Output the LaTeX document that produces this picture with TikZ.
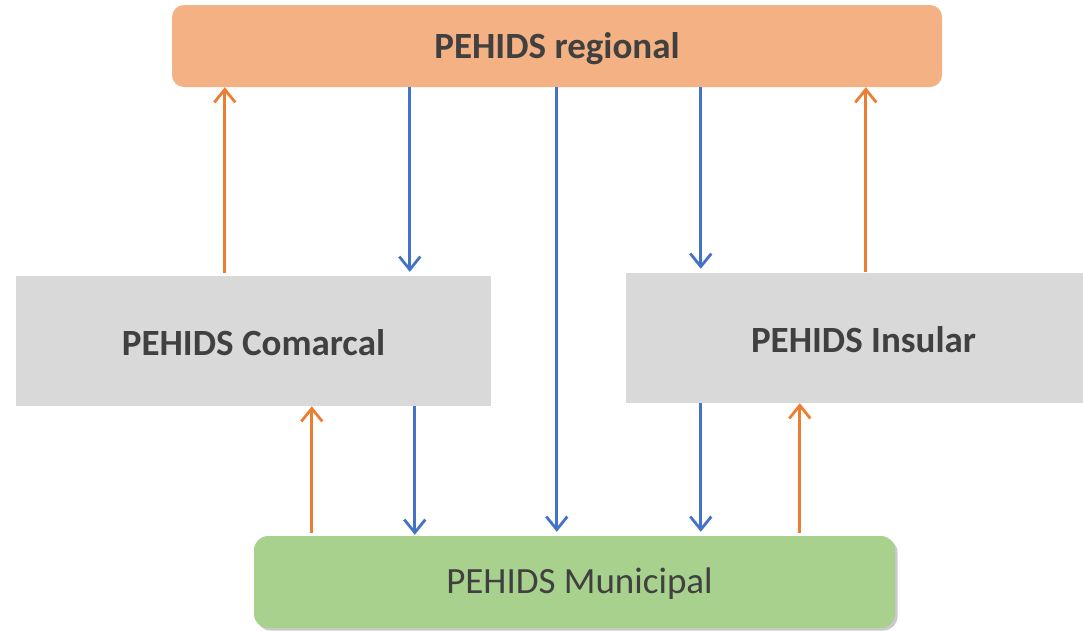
\documentclass[tikz,border=0pt]{standalone}
\usepackage{fontspec}
\setmainfont{Carlito}
\usetikzlibrary{arrows.meta,shadows}
\definecolor{regfill}{HTML}{F4B183}
\definecolor{greyfill}{HTML}{D9D9D9}
\definecolor{munfill}{HTML}{A9D18E}
\definecolor{txt}{HTML}{404040}
\definecolor{arrorange}{HTML}{ED7D31}
\definecolor{arrblue}{HTML}{4472C4}
\newcommand{\lowtext}[2]{\raisebox{-#1}[\height][\depth]{#2}}
\tikzset{
  box/.style={rectangle, inner sep=0pt, text=txt, font=\fontsize{37}{44}\selectfont},
  upar/.style={draw=arrorange, line width=2.8pt, -{Straight Barb[length=13pt,width=21pt,line width=2.8pt]}},
  downar/.style={draw=arrblue, line width=2.8pt, -{Straight Barb[length=13pt,width=21pt,line width=2.8pt]}}
}
\begin{document}
\begin{tikzpicture}[x=1pt,y=-1pt]
\useasboundingbox (0,0) rectangle (1083,630);
\begin{scope}
\clip (0,0) rectangle (1083,630);
\node[box, fill=regfill, rounded corners=12pt, minimum width=770pt, minimum height=82pt, font=\fontsize{37}{44}\selectfont\bfseries] (regional) at (557,46) {\lowtext{3pt}{PEHIDS regional}};
\node[box, fill=greyfill, minimum width=475pt, minimum height=130pt, font=\fontsize{37}{44}\selectfont\bfseries] (comarcal) at (253.5,341) {\lowtext{2pt}{PEHIDS Comarcal}};
\node[box, fill=greyfill, minimum width=475pt, minimum height=130pt, font=\fontsize{37}{44}\selectfont\bfseries] (insular) at (863.5,338) {\lowtext{2pt}{PEHIDS Insular}};
\node[box, fill=munfill, rounded corners=14pt, minimum width=641pt, minimum height=92pt,
  drop shadow={shadow xshift=2.5pt, shadow yshift=-2.5pt, opacity=0.35, fill=black!60}] (municipal) at (574.5,582) {\hspace*{10pt}\lowtext{2pt}{PEHIDS Municipal}};
\end{scope}
% between regional and middle row
\draw[upar, shorten <=3pt] ([xshift=209pt]comarcal.north west) -- ([xshift=53pt]regional.south west);
\draw[downar, shorten >=4pt] ([xshift=238pt]regional.south west) -- ([xshift=394pt]comarcal.north west);
\draw[downar, shorten >=4pt] ([xshift=529pt]regional.south west) -- ([xshift=75pt]insular.north west);
\draw[upar, shorten <=1pt] ([xshift=240pt]insular.north west) -- ([xshift=694pt]regional.south west);
\draw[downar, shorten >=4pt] ([xshift=385pt]regional.south west) -- ([xshift=303pt]municipal.north west);
% between middle row and municipal
\draw[upar, shorten <=3pt] ([xshift=58pt]municipal.north west) -- ([xshift=296pt]comarcal.south west);
\draw[downar, shorten >=1pt] ([xshift=399pt]comarcal.south west) -- ([xshift=161pt]municipal.north west);
\draw[downar, shorten >=4pt] ([xshift=75pt]insular.south west) -- ([xshift=447pt]municipal.north west);
\draw[upar, shorten <=3pt] ([xshift=546pt]municipal.north west) -- ([xshift=174pt]insular.south west);
\end{tikzpicture}
\end{document}
